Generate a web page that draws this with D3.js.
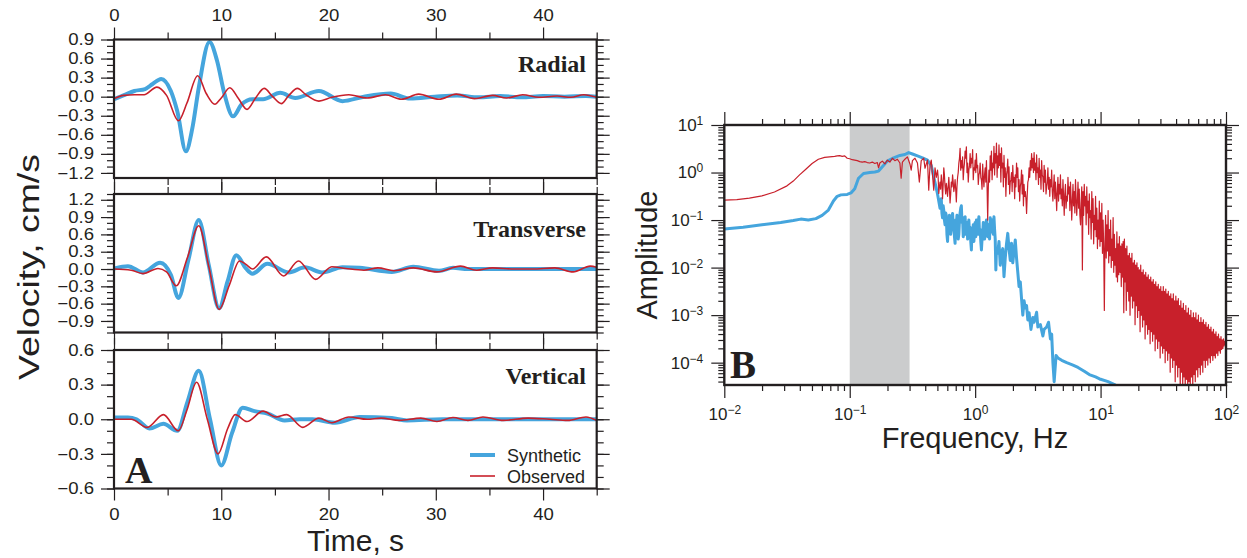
<!DOCTYPE html>
<html><head><meta charset="utf-8">
<script src="https://cdn.jsdelivr.net/npm/d3@7"></script>
<style>
body{margin:0;background:#fff;}
svg{display:block;}
</style></head><body>
<svg id="chart" width="1247" height="558"></svg>
<script>
// ---------------- DATA ----------------
// Panel A: velocity waveforms, [time s, velocity cm/s]
const timeTicks = [0, 10, 20, 30, 40];
const timeMinorTicks = [5, 15, 25, 35, 45];
const radialTicks = [0.9, 0.6, 0.3, 0.0, -0.3, -0.6, -0.9, -1.2];
const transverseTicks = [1.2, 0.9, 0.6, 0.3, 0.0, -0.3, -0.6, -0.9];
const verticalTicks = [0.6, 0.3, 0.0, -0.3, -0.6];
const componentNames = ["Radial", "Transverse", "Vertical"];
const seriesNames = ["Synthetic", "Observed"];

const radialSyn = [[0,-0.04],[1.0,0.03],[1.9,0.09],[2.9,0.12],[3.6,0.2],[4.4,0.28],[5.3,0.09],[5.9,-0.23],[6.7,-0.86],[7.3,-0.5],[7.9,0.14],[8.9,0.86],[9.6,0.57],[10.3,0.04],[11.1,-0.31],[11.9,-0.12],[12.9,-0.04],[13.9,-0.04],[15.5,0.06],[16.9,-0.02],[19.1,0.09],[21.3,-0.07],[23.3,0.0],[25.8,0.05],[27.6,-0.03],[29.9,0.0],[32,0.02],[34,-0.01],[36,0.01],[38,-0.01],[40,0.01],[42,0.0],[44,0.01],[45,0.0]];
const radialObs = [[0,-0.03],[0.9,0.02],[1.9,0.03],[2.8,0.03],[4.0,0.15],[4.9,0.02],[6.0,-0.38],[6.8,-0.1],[7.8,0.33],[8.6,0.05],[9.4,-0.12],[10.0,-0.02],[10.8,0.14],[11.6,-0.03],[12.4,-0.2],[13.2,-0.02],[14.0,0.13],[14.8,0.0],[15.6,-0.11],[16.3,0.02],[17.1,0.13],[17.9,0.03],[19.1,-0.07],[20.3,-0.01],[21.9,0.03],[23.6,-0.02],[25.3,0.03],[26.8,-0.04],[28.4,0.04],[30.3,-0.04],[31.9,0.04],[33.6,-0.03],[35.3,0.02],[36.6,-0.02],[38.1,0.03],[39.6,-0.01],[41.3,0.01],[42.6,-0.01],[43.8,0.03],[45,-0.01]];
const transSyn = [[0,0.01],[1.3,0.05],[2.7,-0.06],[4.3,0.11],[5.3,-0.1],[6.0,-0.5],[6.95,0.17],[7.9,0.85],[8.82,0.08],[9.8,-0.68],[10.58,-0.22],[11.4,0.24],[12.3,0.01],[12.9,-0.08],[14.3,0.09],[16.3,-0.06],[17.8,0.03],[19.4,-0.06],[21.3,0.03],[22.9,0.02],[25.9,-0.05],[27.9,0.04],[30.3,-0.03],[31.6,0.02],[33,0.0],[36,0.0],[40,0.0],[45,0.0]];
const transObs = [[0,0.0],[1.6,-0.02],[2.7,-0.08],[4.1,0.01],[4.9,-0.05],[5.8,-0.29],[6.85,0.2],[7.9,0.75],[8.85,0.03],[9.8,-0.7],[10.75,-0.28],[11.7,0.14],[12.3,0.08],[12.9,0.0],[14.2,0.21],[15.8,-0.12],[17.2,0.14],[18.8,-0.18],[20.3,0.04],[21.6,0.01],[23.3,-0.02],[24.6,0.02],[26.1,-0.03],[27.9,0.02],[30.1,-0.05],[32.3,0.05],[33.8,-0.02],[35.3,0.02],[37.3,0.0],[39,0.0],[41.1,0.02],[42.8,-0.05],[44.4,0.05],[45,0.03]];
const vertSyn = [[0,0.015],[1.3,0.015],[2.1,0.0],[3.3,-0.08],[4.6,-0.04],[5.9,-0.1],[6.85,0.15],[7.9,0.42],[8.95,0.0],[10.0,-0.4],[11.0,-0.12],[12.0,0.1],[13.1,0.07],[14.3,0.05],[15.9,-0.01],[17.3,0.0],[18.5,0.0],[20.6,-0.03],[22.9,0.02],[25.9,0.01],[27.3,-0.01],[30.6,0.0],[45,0.0]];
const vertObs = [[0,0.0],[1.6,0.0],[3.1,-0.07],[4.6,0.04],[6.0,-0.1],[6.8,0.08],[7.7,0.32],[8.7,0.0],[9.7,-0.3],[10.6,-0.08],[11.3,0.04],[12.4,-0.02],[13.9,0.07],[15.1,0.02],[16.1,0.04],[17.6,-0.07],[19.1,0.01],[20.3,-0.03],[21.9,0.02],[23.6,0.0],[24.9,0.01],[26.6,-0.01],[28.6,0.01],[30.1,-0.02],[31.6,0.015],[33,-0.01],[34.4,0.02],[36.3,-0.01],[38.6,0.01],[40.6,0.0],[42.3,-0.01],[44,0.02],[45,-0.01]];

// Panel B: amplitude spectra, [log10 frequency Hz, log10 amplitude]
const freqDecades = [0.01, 0.1, 1, 10, 100];
const ampDecades = [1e-4, 1e-3, 1e-2, 1e-1, 1, 10];
const passBand = [0.1, 0.3];
const synSpec = [[-2.00,-1.19],[-1.85,-1.15],[-1.70,-1.10],[-1.55,-1.05],[-1.45,-1.01],[-1.39,-0.98],[-1.33,-1.00],[-1.27,-0.97],[-1.22,-0.90],[-1.17,-0.79],[-1.13,-0.60],[-1.10,-0.50],[-1.07,-0.47],[-1.02,-0.46],[-0.99,-0.43],[-0.96,-0.34],[-0.93,-0.12],[-0.89,-0.02],[-0.84,0.00],[-0.80,0.01],[-0.77,0.03],[-0.74,0.12],[-0.70,0.24],[-0.65,0.31],[-0.60,0.36],[-0.56,0.38],[-0.53,0.42],[-0.50,0.39],[-0.46,0.35],[-0.42,0.31],[-0.38,0.26],[-0.35,0.15],[-0.33,-0.09],[-0.30,-0.45],[-0.28,-0.75],[-0.275,-0.60],[-0.27,-0.55],[-0.265,-0.85],[-0.26,-0.95],[-0.255,-0.70],[-0.25,-0.80],[-0.245,-1.00],[-0.24,-1.10],[-0.235,-0.85],[-0.23,-0.90],[-0.225,-1.30],[-0.22,-1.45],[-0.215,-1.05],[-0.21,-1.15],[-0.205,-0.90],[-0.20,-0.95],[-0.195,-1.30],[-0.19,-1.20],[-0.185,-0.95],[-0.18,-0.86],[-0.175,-1.15],[-0.17,-1.05],[-0.165,-1.35],[-0.16,-1.49],[-0.155,-1.00],[-0.15,-1.10],[-0.145,-0.90],[-0.14,-1.00],[-0.135,-1.40],[-0.13,-1.30],[-0.125,-1.00],[-0.12,-0.85],[-0.115,-0.75],[-0.11,-0.70],[-0.105,-1.05],[-0.10,-0.95],[-0.095,-1.35],[-0.09,-1.25],[-0.085,-0.95],[-0.08,-0.93],[-0.075,-1.30],[-0.07,-1.21],[-0.065,-1.05],[-0.06,-1.40],[-0.055,-1.10],[-0.05,-1.00],[-0.045,-1.30],[-0.04,-1.15],[-0.035,-1.45],[-0.03,-1.63],[-0.025,-1.20],[-0.02,-1.28],[-0.015,-1.10],[-0.01,-1.45],[-0.005,-1.20],[0.00,-1.05],[0.005,-1.35],[0.01,-1.00],[0.015,-1.15],[0.02,-1.30],[0.025,-1.05],[0.03,-0.93],[0.035,-1.30],[0.04,-1.20],[0.045,-1.45],[0.05,-1.63],[0.055,-1.40],[0.06,-1.30],[0.065,-1.05],[0.07,-1.10],[0.075,-1.40],[0.08,-1.28],[0.085,-1.10],[0.09,-1.00],[0.095,-1.30],[0.10,-1.35],[0.105,-1.10],[0.11,-1.15],[0.115,-1.40],[0.12,-0.95],[0.125,-1.20],[0.13,-1.25],[0.135,-1.00],[0.14,-1.10],[0.145,-1.30],[0.15,-0.93],[0.155,-1.20],[0.16,-1.40],[0.165,-2.05],[0.17,-1.60],[0.18,-1.70],[0.19,-1.45],[0.20,-1.95],[0.21,-1.70],[0.22,-1.60],[0.23,-2.19],[0.24,-1.80],[0.25,-1.50],[0.26,-1.28],[0.27,-1.60],[0.28,-1.85],[0.29,-1.49],[0.30,-1.90],[0.31,-1.65],[0.32,-1.42],[0.33,-1.80],[0.34,-2.10],[0.35,-2.40],[0.36,-2.30],[0.37,-2.66],[0.38,-3.00],[0.39,-2.70],[0.40,-2.85],[0.41,-2.80],[0.42,-3.10],[0.43,-2.95],[0.445,-3.30],[0.46,-3.05],[0.47,-3.15],[0.49,-2.94],[0.50,-3.25],[0.52,-3.20],[0.54,-3.44],[0.55,-3.30],[0.57,-3.25],[0.585,-3.15],[0.60,-3.50],[0.61,-3.40],[0.62,-4.00],[0.63,-4.40],[0.645,-3.85],[0.66,-3.90],[0.69,-3.95],[0.73,-4.00],[0.78,-4.05],[0.82,-4.10],[0.87,-4.18],[0.91,-4.25],[0.96,-4.30],[1.00,-4.35],[1.06,-4.40],[1.12,-4.47]];
const obsSpec = [[-2.00,-0.58],[-1.90,-0.57],[-1.80,-0.54],[-1.70,-0.49],[-1.60,-0.41],[-1.50,-0.28],[-1.45,-0.18],[-1.40,-0.05],[-1.35,0.07],[-1.30,0.19],[-1.25,0.28],[-1.20,0.32],[-1.16,0.33],[-1.12,0.34],[-1.10,0.35],[-1.08,0.355],[-1.06,0.34],[-1.04,0.35],[-1.02,0.30],[-1.00,0.29],[-0.98,0.27],[-0.96,0.26],[-0.94,0.25],[-0.92,0.23],[-0.90,0.22],[-0.88,0.23],[-0.86,0.21],[-0.84,0.20],[-0.82,0.22],[-0.80,0.19],[-0.78,0.21],[-0.77,0.10],[-0.76,0.20],[-0.74,0.24],[-0.72,0.18],[-0.70,0.26],[-0.68,0.22],[-0.66,0.30],[-0.64,0.25],[-0.62,0.28],[-0.60,0.20],[-0.59,-0.12],[-0.58,0.22],[-0.56,0.28],[-0.54,0.33],[-0.52,0.18],[-0.51,0.05],[-0.50,0.25],[-0.48,0.30],[-0.46,0.20],[-0.445,-0.20],[-0.43,0.25],[-0.41,0.30],[-0.40,0.09],[-0.38,0.26],[-0.37,-0.37],[-0.36,0.15],[-0.35,0.26],[-0.34,-0.05],[-0.33,-0.37],[-0.32,0.10],[-0.31,-0.10],
[-0.30,0.05],[-0.295,-0.10],[-0.29,-0.44],[-0.285,-0.30],[-0.28,-0.20],[-0.275,-0.35],[-0.27,-0.05],[-0.265,-0.20],[-0.26,-0.55],[-0.255,-0.25],[-0.25,0.10],[-0.245,-0.05],[-0.24,-0.30],[-0.235,-0.45],[-0.23,-0.23],[-0.225,-0.35],[-0.22,-0.50],[-0.215,-0.30],[-0.21,-0.10],[-0.205,-0.35],[-0.20,-0.64],[-0.195,-0.45],[-0.19,-0.20],[-0.185,-0.30],[-0.18,-0.05],[-0.175,-0.20],[-0.17,-0.40],[-0.165,-0.30],[-0.16,-0.15],[-0.155,-0.35],[-0.15,-0.62],[-0.145,-0.30],[-0.14,-0.10],[-0.135,0.00],[-0.13,0.20],[-0.125,0.30],[-0.12,0.51],[-0.115,0.05],[-0.11,0.25],[-0.105,0.10],[-0.10,0.33],[-0.095,-0.15],[-0.09,0.08],[-0.085,0.20],[-0.08,0.45],[-0.075,0.30],[-0.07,0.54],[-0.065,0.00],[-0.06,0.20],[-0.055,-0.20],[-0.05,0.05],[-0.045,0.15],[-0.04,0.40],[-0.035,0.10],[-0.03,0.30],[-0.025,0.20],[-0.02,0.48],[-0.015,-0.15],[-0.01,0.10],[-0.005,0.05],[0.00,0.26],[0.005,0.00],[0.01,0.40],[0.015,0.10],[0.02,0.15],[0.025,-0.25],[0.03,-0.05],[0.035,0.00],[0.04,0.20],[0.045,-0.10],[0.05,-0.16],[0.055,-0.35],[0.06,0.18],[0.065,-0.10],[0.07,-0.30],[0.075,-0.05],[0.08,0.10],[0.085,-0.20],[0.09,0.25],[0.095,-0.30],[0.10,-1.00],[0.105,-0.30],[0.11,0.05],[0.115,-0.20],[0.12,0.35],[0.125,0.05],[0.13,0.45],[0.135,-0.15],[0.14,0.20],[0.145,0.10],[0.15,0.55],[0.155,-0.05],[0.16,0.40],[0.165,0.20],[0.17,0.62],[0.175,-0.10],[0.18,0.35],[0.185,0.10],[0.19,0.58],[0.195,0.15],[0.20,0.40],[0.205,-0.20],[0.21,0.52],[0.215,0.10],[0.22,0.20],[0.225,-0.30],[0.23,0.36],[0.235,-0.10],[0.24,0.10],[0.245,-0.50],[0.25,-0.05],[0.255,0.05],[0.26,0.28],[0.265,-0.25],[0.27,0.12],[0.275,-0.45],[0.28,-0.20],[0.285,-0.15],[0.29,0.00],[0.295,-0.40],[0.30,0.15],[0.305,-0.20],[0.31,-0.10],[0.315,-0.55],[0.32,-0.05],[0.325,-0.30],[0.33,0.20],[0.335,-0.10],[0.34,0.10],[0.345,-0.40],[0.35,-0.15],[0.355,-0.60],[0.36,-0.30],[0.365,-0.20],[0.37,0.05],[0.375,-0.45],[0.38,-0.05],[0.385,-0.70],[0.39,-0.25],[0.395,-0.50],[0.40,-0.40],[0.405,-0.55],[0.41,-0.86],[0.415,-0.50],[0.42,-0.20],[0.425,-0.15],[0.43,0.10],[0.435,-0.10],[0.44,0.25],[0.445,0.05],[0.45,0.40],[0.455,0.10],[0.46,0.30],[0.465,0.00],[0.47,0.42],[0.475,0.05],[0.48,0.20],[0.485,-0.15],[0.49,0.37],[0.495,0.00],[0.50,0.10],[0.505,-0.25],[0.51,0.30],[0.515,-0.10],[0.52,0.05],[0.525,-0.35],[0.53,0.25],[0.535,-0.05],[0.54,-0.10],[0.545,-0.40],[0.55,0.15],[0.555,-0.20],[0.56,0.05],[0.565,-0.45],[0.57,-0.30],[0.575,-0.20],[0.58,0.10],[0.585,-0.35],[0.59,-0.10],[0.595,-0.50],[0.60,-0.15],[0.605,-0.30],[0.61,0.05],[0.615,-0.40],[0.62,-0.60],[0.625,-0.30],[0.63,-0.05],[0.635,-0.55],[0.64,-0.20],[0.645,-0.45],[0.65,-0.80],[0.655,-0.40],[0.66,-0.10],[0.665,-0.60],[0.67,-0.25],[0.675,-0.45],[0.68,-0.05],[0.685,-0.55],[0.69,-0.35],[0.695,-0.70],[0.70,-0.15],[0.705,-0.50],[0.71,-0.90],[0.715,-0.45],[0.72,-0.25],[0.725,-0.75],[0.73,-0.50],[0.735,-0.60],[0.74,-0.10],[0.745,-0.45],[0.75,-0.30],[0.755,-0.80],[0.76,-0.20],[0.765,-0.55],[0.77,-1.00],[0.775,-0.60],[0.78,-0.25],[0.785,-0.70],[0.79,-0.40],[0.795,-0.85],[0.80,-0.15],[0.805,-0.55],[0.81,-0.90],[0.815,-0.60],[0.82,-0.20],[0.825,-0.75],[0.83,-0.35],[0.835,-0.90],[0.84,-1.10],[0.845,-0.65],
[0.850,-0.30],[0.855,-2.05],[0.860,-0.40],[0.865,-0.90],[0.870,-0.25],[0.875,-0.70],[0.880,-0.50],[0.885,-1.10],[0.890,-0.30],[0.895,-0.85],[0.900,-0.60],[0.905,-1.30],[0.910,-0.45],[0.915,-0.95],[0.920,-0.80],[0.925,-1.40],[0.930,-0.40],[0.935,-1.05],[0.940,-0.55],[0.945,-1.50],[0.950,-0.90],[0.955,-1.20],[0.960,-0.50],[0.965,-1.35],[0.970,-0.75],[0.975,-1.60],[0.980,-1.00],[0.985,-1.40],[0.990,-0.60],[0.995,-1.55],[1.000,-0.85],[1.005,-1.45],[1.010,-0.65],[1.015,-1.70],[1.020,-1.00],[1.025,-1.60],[1.030,-2.90],[1.035,-1.50],[1.040,-0.90],[1.045,-1.80],[1.050,-1.10],[1.055,-1.65],[1.060,-0.80],[1.065,-1.90],[1.070,-1.20],[1.075,-1.75],[1.080,-1.00],[1.085,-2.00],[1.090,-1.40],[1.095,-1.85],[1.100,-0.95],[1.105,-2.10],[1.110,-1.30],[1.115,-1.95],[1.120,-1.60],[1.125,-2.20],[1.130,-1.25],[1.135,-2.30],[1.140,-1.50],[1.145,-2.15],
[1.150,-1.35],[1.155,-2.10],[1.160,-1.55],[1.165,-2.40],[1.170,-1.50],[1.175,-2.20],[1.180,-1.45],[1.185,-2.95],[1.190,-1.40],[1.195,-2.30],[1.200,-1.60],[1.205,-2.90],[1.210,-1.55],[1.215,-2.50],[1.220,-1.75],[1.225,-2.70],[1.230,-1.70],[1.235,-3.00],[1.240,-1.80],[1.245,-2.60],[1.250,-1.70],[1.255,-2.85],[1.260,-1.90],[1.265,-2.70],[1.270,-1.85],[1.275,-3.20],[1.280,-1.95],[1.285,-2.80],[1.290,-1.90],[1.295,-3.05],[1.300,-2.00],[1.305,-2.90],[1.310,-2.05],[1.315,-3.35],[1.320,-1.95],[1.325,-3.00],[1.330,-2.10],[1.335,-3.25],[1.340,-2.05],[1.345,-3.10],[1.350,-2.15],[1.355,-3.50],[1.360,-2.10],[1.365,-3.20],[1.370,-2.20],[1.375,-3.40],[1.380,-2.15],[1.385,-3.30],[1.390,-2.25],[1.395,-3.60],[1.400,-2.20],[1.405,-3.35],[1.410,-2.30],[1.415,-3.55],[1.420,-2.25],[1.425,-3.40],[1.430,-2.35],[1.435,-3.75],[1.440,-2.30],[1.445,-3.50],[1.450,-2.40],[1.455,-3.70],[1.460,-2.35],[1.465,-3.55],[1.470,-2.45],[1.475,-3.90],[1.480,-2.40],[1.485,-3.65],[1.490,-2.50],[1.495,-3.80],[1.500,-2.40],[1.505,-3.70],[1.510,-2.50],[1.515,-4.00],[1.520,-2.45],[1.525,-3.75],[1.530,-2.55],[1.535,-3.95],[1.540,-2.50],[1.545,-3.80],[1.550,-2.60],[1.555,-4.20],[1.560,-2.55],[1.565,-3.90],[1.570,-2.65],[1.575,-4.10],[1.580,-2.55],[1.585,-3.95],[1.590,-2.70],[1.595,-4.40],[1.600,-2.60],[1.605,-4.05],[1.610,-2.70],[1.615,-4.30],[1.620,-2.65],[1.625,-4.10],[1.630,-2.80],[1.635,-4.60],[1.640,-2.70],[1.645,-4.20],[1.650,-2.85],[1.655,-4.50],[1.660,-2.75],[1.665,-4.30],[1.670,-2.90],[1.675,-4.60],[1.680,-2.80],[1.685,-4.35],[1.690,-2.95],[1.695,-4.60],[1.700,-2.85],[1.705,-4.40],[1.710,-3.00],[1.715,-4.55],[1.720,-2.90],[1.725,-4.30],[1.730,-3.05],[1.735,-4.50],[1.740,-2.95],[1.745,-4.25],[1.750,-3.05],[1.755,-4.40],[1.760,-2.95],[1.765,-4.15],[1.770,-3.10],[1.775,-4.30],[1.780,-3.00],[1.785,-4.10],[1.790,-3.15],[1.795,-4.25],[1.800,-3.05],[1.805,-4.05],[1.810,-3.15],[1.815,-4.20],[1.820,-3.10],[1.825,-3.95],[1.830,-3.20],[1.835,-4.10],[1.840,-3.15],[1.845,-3.95],[1.850,-3.25],[1.855,-4.05],[1.860,-3.20],[1.865,-3.90],[1.870,-3.30],[1.875,-4.00],[1.880,-3.25],[1.885,-3.85],[1.890,-3.35],[1.895,-3.95],[1.900,-3.30],[1.905,-3.85],[1.910,-3.40],[1.915,-3.90],[1.920,-3.35],[1.925,-3.80],[1.930,-3.45],[1.935,-3.85],[1.940,-3.40],[1.945,-3.75],[1.950,-3.50],[1.955,-3.80],[1.960,-3.45],[1.965,-3.72],[1.970,-3.52],[1.975,-3.70],[1.980,-3.50],[1.985,-3.65],[1.990,-3.55],[1.995,-3.62],[2.000,-3.58]];

// ---------------- DRAWING ----------------
const svg = d3.select('#chart');
const SANS = "'Liberation Sans', Arial, Helvetica, sans-serif";
const SERIF = "'Liberation Serif', 'Times New Roman', serif";
const INK = '#231f20';
const BLUE = '#45a5dd', RED = '#c8202b', GRAY = '#cbcccd';

function styleAxis(g, fs) {
  g.select('.domain').remove();
  g.attr('font-family', SANS).attr('font-size', fs);
  g.selectAll('.tick line').attr('stroke', INK).attr('stroke-width', 1.2);
  g.selectAll('.tick text').attr('fill', INK);
}
function widen(g, f) {
  g.selectAll('.tick text').each(function () {
    const L = this.getComputedTextLength();
    if (L > 0) d3.select(this).attr('textLength', L * f).attr('lengthAdjust', 'spacingAndGlyphs');
  });
}

// ---- Panel A ----
const x = d3.scaleLinear().domain([0, 45]).range([114, 596.7]);
const panelTops = [39.5, 194, 350];
const PH = 138.5;
const panels = [
  {title: componentNames[0], syn: radialSyn, obs: radialObs, dom: [-1.28, 0.9], ticks: radialTicks, titleY: 72},
  {title: componentNames[1], syn: transSyn, obs: transObs, dom: [-1.1, 1.3], ticks: transverseTicks, titleY: 237},
  {title: componentNames[2], syn: vertSyn, obs: vertObs, dom: [-0.6, 0.6], ticks: verticalTicks, titleY: 384}
];
const defs = svg.append('defs');
const TF = 16, WF = 1.16;

panels.forEach((p, i) => {
  const top = panelTops[i], bot = top + PH;
  const y = d3.scaleLinear().domain(p.dom).range([bot, top]);
  const g = svg.append('g');
  const cid = 'clipA' + i;
  defs.append('clipPath').attr('id', cid).append('rect')
    .attr('x', x(0)).attr('y', top).attr('width', x(45) - x(0)).attr('height', PH);
  const line = d3.line().x(d => x(d[0])).y(d => y(d[1])).curve(d3.curveMonotoneX);
  g.append('path').datum(p.syn).attr('d', line).attr('fill', 'none')
    .attr('stroke', BLUE).attr('stroke-width', 4).attr('stroke-linejoin', 'round')
    .attr('clip-path', `url(#${cid})`);
  g.append('path').datum(p.obs).attr('d', line).attr('fill', 'none')
    .attr('stroke', RED).attr('stroke-width', 1.6).attr('stroke-linejoin', 'round')
    .attr('clip-path', `url(#${cid})`);

  const minor = d3.range(Math.ceil(p.dom[0] * 10 - 1e-9), Math.floor(p.dom[1] * 10 + 1e-9) + 1).map(k => k / 10);
  g.append('g').attr('transform', `translate(${x(0)},0)`)
    .call(d3.axisLeft(y).tickValues(minor).tickSize(7).tickFormat(''))
    .call(a => styleAxis(a, TF));
  g.append('g').attr('transform', `translate(${x(0)},0)`)
    .call(d3.axisLeft(y).tickValues(p.ticks).tickSize(13).tickPadding(7).tickFormat(d3.format('.1f')))
    .call(a => styleAxis(a, TF)).call(a => widen(a, WF));
  g.append('g').attr('transform', `translate(${x(45)},0)`)
    .call(d3.axisRight(y).tickValues(minor).tickSize(7).tickFormat(''))
    .call(a => styleAxis(a, TF));
  g.append('g').attr('transform', `translate(${x(45)},0)`)
    .call(d3.axisRight(y).tickValues(p.ticks).tickSize(13).tickFormat(''))
    .call(a => styleAxis(a, TF));
  g.append('g').attr('transform', `translate(0,${top})`)
    .call(d3.axisTop(x).tickValues(timeMinorTicks).tickSize(7).tickFormat(''))
    .call(a => styleAxis(a, TF));
  g.append('g').attr('transform', `translate(0,${top})`)
    .call(d3.axisTop(x).tickValues(timeTicks).tickSize(12).tickPadding(7).tickFormat(i === 0 ? d3.format('d') : ''))
    .call(a => styleAxis(a, TF)).call(a => widen(a, WF));
  g.append('g').attr('transform', `translate(0,${bot})`)
    .call(d3.axisBottom(x).tickValues(timeMinorTicks).tickSize(7).tickFormat(''))
    .call(a => styleAxis(a, TF));
  g.append('g').attr('transform', `translate(0,${bot})`)
    .call(d3.axisBottom(x).tickValues(timeTicks).tickSize(12).tickPadding(8).tickFormat(i === 2 ? d3.format('d') : ''))
    .call(a => styleAxis(a, TF)).call(a => widen(a, WF));

  g.append('rect').attr('x', x(0)).attr('y', top).attr('width', x(45) - x(0)).attr('height', PH)
    .attr('fill', 'none').attr('stroke', INK).attr('stroke-width', 2.2);

  g.append('text').attr('x', 586).attr('y', p.titleY).attr('text-anchor', 'end')
    .attr('font-family', SERIF).attr('font-weight', 'bold').attr('font-size', 24)
    .attr('fill', INK).text(p.title);
});

// legend
const leg = svg.append('g');
[[seriesNames[0], BLUE, 4, 455], [seriesNames[1], RED, 1.6, 476]].forEach(([name, col, w, ly]) => {
  leg.append('line').attr('x1', 470).attr('x2', 495).attr('y1', ly).attr('y2', ly)
    .attr('stroke', col).attr('stroke-width', w);
  leg.append('text').attr('x', 507).attr('y', ly + 6.5).attr('font-family', SANS)
    .attr('font-size', 18).attr('fill', INK).text(name);
});
svg.append('text').attr('x', 125).attr('y', 483).attr('font-family', SERIF).attr('font-weight', 'bold')
  .attr('font-size', 38).attr('fill', INK).text('A');
svg.append('text').attr('x', 355.5).attr('y', 551).attr('text-anchor', 'middle').attr('font-family', SANS)
  .attr('font-size', 30).attr('fill', INK).text('Time, s');
svg.append('text').attr('transform', 'translate(39,267) rotate(-90)').attr('text-anchor', 'middle')
  .attr('font-family', SANS).attr('font-size', 30).attr('fill', INK)
  .attr('textLength', 226).attr('lengthAdjust', 'spacingAndGlyphs').text('Velocity, cm/s');

// ---- Panel B ----
const BL = 724.3, BR = 1226, BT = 125, BB = 385;
const xs = d3.scaleLog().domain([0.01, 100]).range([BL, BR]);
const ys = d3.scaleLog().domain([Math.pow(10, -4.47), 10]).range([BB, BT]);
const gb = svg.append('g');
defs.append('clipPath').attr('id', 'clipB').append('rect')
  .attr('x', BL).attr('y', BT).attr('width', BR - BL).attr('height', BB - BT);
gb.append('rect').attr('x', xs(passBand[0])).attr('y', BT).attr('width', xs(passBand[1]) - xs(passBand[0]))
  .attr('height', BB - BT).attr('fill', GRAY);
const sline = d3.line().x(d => xs(Math.pow(10, d[0]))).y(d => ys(Math.pow(10, d[1])));
gb.append('path').datum(synSpec).attr('d', sline).attr('fill', 'none').attr('stroke', BLUE)
  .attr('stroke-width', 3).attr('stroke-linejoin', 'round').attr('clip-path', 'url(#clipB)');
gb.append('path').datum(obsSpec).attr('d', sline).attr('fill', 'none').attr('stroke', RED)
  .attr('stroke-width', 1.2).attr('stroke-linejoin', 'round').attr('clip-path', 'url(#clipB)');

const xMinor = [];
[0.01, 0.1, 1, 10].forEach(d => { for (let k = 2; k <= 9; k++) xMinor.push(d * k); });
const yMinor = [];
[1e-5, 1e-4, 1e-3, 1e-2, 1e-1, 1].forEach(d => { for (let k = 2; k <= 9; k++) { const v = d * k; if (v >= ys.domain()[0] && v <= 10) yMinor.push(v); } });

function supLabels(a) {
  a.selectAll('.tick text').each(function (d) {
    const e = Math.round(Math.log10(d));
    const t = d3.select(this);
    t.text('');
    t.append('tspan').text('10');
    t.append('tspan').attr('dy', '-0.5em').attr('font-size', 12).text(e < 0 ? '\u2212' + (-e) : String(e));
  });
}
const BF = 17;
gb.append('g').attr('transform', `translate(0,${BB})`)
  .call(d3.axisBottom(xs).tickValues(xMinor).tickSize(6).tickFormat(''))
  .call(a => styleAxis(a, BF));
gb.append('g').attr('transform', `translate(0,${BB})`)
  .call(d3.axisBottom(xs).tickValues(freqDecades).tickSize(13).tickPadding(10).tickFormat(d => d))
  .call(a => styleAxis(a, BF)).call(supLabels);
gb.append('g').attr('transform', `translate(0,${BT})`)
  .call(d3.axisTop(xs).tickValues(xMinor).tickSize(6).tickFormat(''))
  .call(a => styleAxis(a, BF));
gb.append('g').attr('transform', `translate(0,${BT})`)
  .call(d3.axisTop(xs).tickValues(freqDecades).tickSize(13).tickFormat(''))
  .call(a => styleAxis(a, BF));
gb.append('g').attr('transform', `translate(${BL},0)`)
  .call(d3.axisLeft(ys).tickValues(yMinor).tickSize(6).tickFormat(''))
  .call(a => styleAxis(a, BF));
gb.append('g').attr('transform', `translate(${BL},0)`)
  .call(d3.axisLeft(ys).tickValues(ampDecades).tickSize(13).tickPadding(8).tickFormat(d => d))
  .call(a => styleAxis(a, BF)).call(supLabels);
gb.append('g').attr('transform', `translate(${BR},0)`)
  .call(d3.axisRight(ys).tickValues(yMinor).tickSize(6).tickFormat(''))
  .call(a => styleAxis(a, BF));
gb.append('g').attr('transform', `translate(${BR},0)`)
  .call(d3.axisRight(ys).tickValues(ampDecades).tickSize(13).tickFormat(''))
  .call(a => styleAxis(a, BF));

gb.append('rect').attr('x', BL).attr('y', BT).attr('width', BR - BL).attr('height', BB - BT)
  .attr('fill', 'none').attr('stroke', INK).attr('stroke-width', 2.4);

svg.append('text').attr('x', 730).attr('y', 378).attr('font-family', SERIF).attr('font-weight', 'bold')
  .attr('font-size', 39).attr('fill', INK).text('B');
svg.append('text').attr('x', 975).attr('y', 448).attr('text-anchor', 'middle').attr('font-family', SANS)
  .attr('font-size', 29).attr('fill', INK).text('Frequency, Hz');
svg.append('text').attr('transform', 'translate(657,255) rotate(-90)').attr('text-anchor', 'middle')
  .attr('font-family', SANS).attr('font-size', 29).attr('fill', INK).text('Amplitude');
</script>
</body></html>
